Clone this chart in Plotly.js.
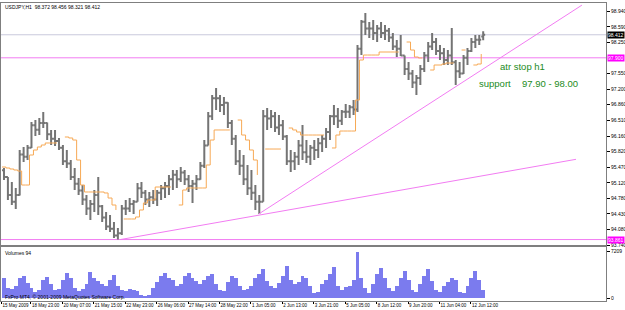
<!DOCTYPE html>
<html><head><meta charset="utf-8">
<script src="https://cdn.plot.ly/plotly-3.0.1.min.js"></script>
<style>html,body{margin:0;padding:0;background:#fff;}#chart{width:625px;height:310px;}</style>
</head><body><div id="chart"></div>
<script>
// ---- data (4-hour buckets of the H1 series, bar index on x) ----
const symbolTitle = "USDJPY,H1  98.372 98.456 98.321 98.412";
const barsPerBucket = 4;
const priceOpen = [
95.40,95.25,94.85,94.70,94.85,95.75,95.70,95.90,96.40,96.30,
96.45,96.45,96.20,96.10,96.05,95.90,95.60,95.55,95.25,95.10,
94.95,94.75,94.55,94.65,94.85,94.60,94.35,94.15,94.10,93.95,
94.00,94.55,94.55,94.65,94.70,95.00,94.90,94.75,94.80,94.75,
94.90,95.00,95.05,95.20,95.30,95.20,95.35,95.20,95.05,95.10,
95.20,95.50,95.95,96.60,97.00,97.00,96.85,96.90,96.45,96.10,
95.60,95.50,95.20,95.00,94.90,94.70,94.70,96.60,96.55,96.60,
96.35,96.40,96.15,95.60,95.60,95.70,95.95,95.80,95.70,95.90,
95.85,96.00,96.10,96.25,96.60,96.60,96.50,96.70,96.70,96.80,
96.75,98.10,98.70,98.55,98.55,98.45,98.55,98.45,98.50,98.35,
98.15,98.10,97.95,97.65,97.55,97.35,97.45,97.65,97.95,98.15,
98.25,98.05,98.00,97.85,97.95,97.80,97.60,97.55,97.90,98.05,
98.25,98.30,98.372];
const priceHigh = [
95.451,95.25,95.140,95.007,95.851,95.918,95.962,96.473,96.518,96.562,
96.696,96.46,96.296,96.296,96.118,95.962,95.851,95.629,95.451,95.229,
95.073,94.851,94.740,94.962,95.251,94.629,94.473,94.407,94.251,94.118,
94.629,94.740,94.784,94.740,95.118,95.140,94.962,94.918,94.962,94.962,
95.073,95.140,95.296,95.407,95.407,95.473,95.407,95.296,95.184,95.296,
95.584,96.073,96.696,97.073,97.229,97.073,97.029,96.91,96.518,96.184,
95.851,95.740,95.518,95.407,95.073,94.851,96.740,96.784,96.740,96.696,
96.629,96.518,96.184,95.851,95.807,96.073,96.407,96.073,95.962,96.073,
96.118,96.184,96.340,96.629,96.851,96.784,96.740,96.873,96.851,96.962,
98.184,98.740,98.896,98.696,98.740,98.629,98.696,98.629,98.562,98.451,
98.296,98.407,97.95,97.807,97.629,97.518,97.740,98.029,98.251,98.451,
98.340,98.184,98.118,98.073,98.562,97.851,97.807,97.962,98.118,98.340,
98.407,98.407,98.49];
const priceLow = [
95.184,94.740,94.629,94.540,94.84,95.584,95.629,95.896,96.162,96.184,
96.340,96.073,95.962,95.940,95.851,95.518,95.451,95.184,94.962,94.851,
94.629,94.407,94.296,94.473,94.407,94.251,94.073,94.029,93.896,93.861,
93.962,94.407,94.473,94.429,94.70,94.784,94.629,94.584,94.651,94.607,
94.740,94.784,94.851,94.962,95.007,95.140,95.073,94.918,94.673,94.962,
95.19,95.451,95.95,96.518,96.740,96.696,96.629,96.340,95.962,95.518,
95.296,95.073,94.851,94.740,94.518,94.429,94.70,96.296,96.340,96.251,
96.184,96.073,95.518,95.362,95.407,95.518,95.629,95.562,95.518,95.629,
95.673,95.807,95.896,96.073,96.407,96.340,96.407,96.562,96.562,96.629,
96.696,97.962,98.407,98.340,98.296,98.251,98.340,98.296,98.251,98.073,
97.918,97.94,97.518,97.407,97.229,97.073,97.296,97.584,97.807,98.073,
97.962,97.851,97.740,97.740,97.740,97.296,97.451,97.54,97.740,98.029,
98.118,98.184,98.29];
const priceClose = [
95.25,94.85,94.70,94.85,95.75,95.70,95.90,96.40,96.30,96.45,
96.45,96.20,96.10,96.05,95.90,95.60,95.55,95.25,95.10,94.95,
94.75,94.55,94.65,94.85,94.60,94.35,94.15,94.10,93.95,94.00,
94.55,94.55,94.65,94.70,95.00,94.90,94.75,94.80,94.75,94.90,
95.00,95.05,95.20,95.30,95.20,95.35,95.20,95.05,95.10,95.20,
95.50,95.95,96.60,97.00,97.00,96.85,96.90,96.45,96.10,95.60,
95.50,95.20,95.00,94.90,94.70,94.70,96.60,96.55,96.60,96.35,
96.40,96.15,95.60,95.60,95.70,95.95,95.80,95.70,95.90,95.85,
96.00,96.10,96.25,96.60,96.60,96.50,96.70,96.70,96.80,96.75,
98.10,98.70,98.55,98.55,98.45,98.55,98.45,98.50,98.35,98.15,
98.10,97.95,97.65,97.55,97.35,97.45,97.65,97.95,98.15,98.25,
98.05,98.00,97.85,97.95,97.80,97.60,97.55,97.90,98.05,98.25,
98.30,98.30,98.412];
const atrStop = [
95.473,95.451,95.429,95.407,95.384,95.073,95.073,95.740,95.851,95.918,
95.962,96.007,96.007,96.007,96.007,null,96.140,96.118,96.073,95.629,
95.073,94.918,94.918,94.918,94.918,94.918,94.896,94.784,94.629,94.518,
null,94.318,94.318,94.318,94.362,94.518,94.673,94.740,94.740,95.029,
95.029,95.029,95.029,95.029,null,94.629,94.962,95.007,95.007,95.007,
95.007,95.007,95.518,96.073,96.296,96.296,96.296,96.296,96.296,null,
96.518,96.184,96.073,95.851,95.629,95.296,null,95.873,95.873,95.873,
95.873,95.873,null,96.340,96.296,96.251,96.184,96.184,96.184,96.184,
96.184,96.184,96.184,null,95.896,96.184,96.273,96.273,96.273,96.273,
96.962,97.851,97.962,97.962,97.962,97.962,98.029,98.029,98.029,98.029,
98.029,98.029,null,98.251,98.073,97.918,97.896,97.896,null,97.629,
97.740,97.740,97.762,97.784,97.784,97.784,null,98.073,98.073,null,
97.740,97.762,97.984];
const volumes = [
3100,1550,1400,1860,3100,3400,2300,1550,930,1240,
2800,3250,2170,1240,1400,2800,3900,3100,1550,1085,
1400,2170,4030,3100,2635,2170,1860,2800,3565,1860,
1240,1085,1400,1240,1085,465,310,465,1550,2480,
3400,3875,3100,2790,1860,2170,3400,3875,3100,2635,
2170,2790,3400,3720,2170,1240,1085,2480,3400,3100,
1860,1240,1400,1860,3100,3720,4500,2635,1860,1550,
2325,3400,4960,2790,2170,2480,3400,3100,1860,775,
930,2170,2790,3720,4800,1860,1240,1700,1860,2790,
7209,3100,1550,775,2170,3720,4650,3100,1550,1085,
1860,3100,4185,2790,1240,930,2170,3400,4500,2635,
1240,930,1860,2480,3100,2790,930,775,1860,3100,
4185,2790,1240];
const timeTickBars = [-1,29,61,93,125,157,189,221,253,285,317,349,381,413,445,477];
const timeTickLabels = ["15 May 2009","18 May 23:00","20 May 07:00","21 May 15:00","22 May 23:00",
  "26 May 06:00","27 May 14:00","28 May 22:00","1 Jun 05:00","2 Jun 13:00","3 Jun 21:00",
  "5 Jun 05:00","8 Jun 12:00","9 Jun 20:00","11 Jun 04:00","12 Jun 12:00"];
const priceTicks = [98.94,98.59,98.25,97.55,97.20,96.86,96.51,96.16,95.82,95.47,95.12,94.78,94.43,94.08,93.74];
const volumeTicks = [0,7209];
const lastVolume = 94;
const trendSteepBars = [261,590];
const trendSteepPrices = [94.43,99.07];
const trendShallowBars = [120,584];
const trendShallowPrices = [93.861,95.644];
const levelPrices = [98.412,97.90,93.861];   // bid line, support line, low line
const noteAtr = "atr stop h1";
const noteSupport = "support";
const noteRange = "97.90 - 98.00";
const noteBar = [505, 483, 527];
const notePrice = [97.70, 97.34, 97.34];

// ---- build ----
const bucketX = priceHigh.map((_, i) => i * barsPerBucket + barsPerBucket / 2 - 0.5);
const atrX = atrStop.map((_, i) => i * barsPerBucket - 0.5);
const GRAY = '#747474', MAG = '#f27cf2', ORANGE = '#f7a955', GREEN = '#228b22';
const xRange = [-1.53, 614.56];

const traces = [
  {type:'ohlc', x:bucketX, open:priceOpen, high:priceHigh, low:priceLow, close:priceClose,
   xaxis:'x', yaxis:'y', tickwidth:0.5,
   increasing:{line:{color:GRAY, width:2}}, decreasing:{line:{color:GRAY, width:2}}, hoverinfo:'skip'},
  {type:'scatter', mode:'lines', x:atrX, y:atrStop, line:{color:ORANGE, width:1, shape:'hv'},
   connectgaps:false, xaxis:'x', yaxis:'y', hoverinfo:'skip'},
  {type:'scatter', mode:'lines', x:trendSteepBars, y:trendSteepPrices, line:{color:MAG, width:1},
   xaxis:'x', yaxis:'y', hoverinfo:'skip'},
  {type:'scatter', mode:'lines', x:trendShallowBars, y:trendShallowPrices, line:{color:MAG, width:1},
   xaxis:'x', yaxis:'y', hoverinfo:'skip'},
  {type:'bar', x:bucketX, y:volumes, width:barsPerBucket, marker:{color:'#7b7bee', line:{width:0}},
   xaxis:'x2', yaxis:'y2', hoverinfo:'skip'}
];

const levelColors = ['#c9c9dc', MAG, MAG];
const shapes = levelPrices.map((p, i) => ({type:'line', xref:'paper', x0:0, x1:1, yref:'y', y0:p, y1:p,
  line:{color:levelColors[i], width:1}, layer:'below'}));

const small = {family:'Liberation Sans, Arial, sans-serif', size:5, color:'#000'};
const tiny = {family:'Liberation Sans, Arial, sans-serif', size:4.5, color:'#000'};
const noteFont = {family:'Liberation Sans, Arial, sans-serif', size:9.5, color:GREEN};
const boxStyles = [{bg:'#000000', fg:'#ffffff'}, {bg:'#ff00ff', fg:'#ffffff'}, {bg:'#ff00ff', fg:'#ffffff'}];
const annotations = [
  {xref:'paper', yref:'paper', x:0.003, y:0.9866, xanchor:'left', yanchor:'middle', showarrow:false, text:symbolTitle, font:small},
  {xref:'paper', yref:'paper', x:0.003, y:0.161, xanchor:'left', yanchor:'middle', showarrow:false, text:'Volumes ' + lastVolume, font:small},
  {xref:'paper', yref:'paper', x:0.003, y:0.012, xanchor:'left', yanchor:'middle', showarrow:false,
   text:'FxPro MT4, © 2001-2009 MetaQuotes Software Corp.', font:small},
  {xref:'x', yref:'y', x:noteBar[0], y:notePrice[0], xanchor:'left', yanchor:'middle', showarrow:false, text:noteAtr, font:noteFont},
  {xref:'x', yref:'y', x:noteBar[1], y:notePrice[1], xanchor:'left', yanchor:'middle', showarrow:false, text:noteSupport, font:noteFont},
  {xref:'x', yref:'y', x:noteBar[2], y:notePrice[2], xanchor:'left', yanchor:'middle', showarrow:false, text:noteRange, font:noteFont}
].concat(levelPrices.map((p, i) => ({xref:'paper', yref:'y', x:1, y:p, xanchor:'left', yanchor:'middle', xshift:1,
   showarrow:false, text:p.toFixed(3), bgcolor:boxStyles[i].bg, borderpad:0,
   font:{family:'Liberation Sans, Arial, sans-serif', size:5, color:boxStyles[i].fg}})));

const axisLine = {showline:true, mirror:true, linecolor:'#7f7f7f', linewidth:1, showgrid:false, zeroline:false};
const layout = {
  width:625, height:310,
  margin:{l:1, r:19, t:3, b:9, pad:0},
  paper_bgcolor:'#ffffff', plot_bgcolor:'#ffffff',
  showlegend:false, shapes:shapes, annotations:annotations,
  font:small,
  xaxis:Object.assign({domain:[0,1], range:xRange, anchor:'y', showticklabels:false, ticks:'',
    rangeslider:{visible:false}}, axisLine),
  yaxis:Object.assign({domain:[0.18792,1], range:[93.74, 99.118], side:'right', anchor:'x',
    tickvals:priceTicks, ticktext:priceTicks.map(v => v.toFixed(3)), ticks:'outside', ticklen:3,
    tickcolor:'#000', tickfont:small}, axisLine),
  xaxis2:Object.assign({domain:[0,1], range:xRange, anchor:'y2', tickvals:timeTickBars, ticktext:timeTickLabels,
    ticks:'outside', ticklen:2, tickcolor:'#000', tickangle:0, ticklabelposition:'outside right',
    tickfont:tiny}, axisLine),
  yaxis2:Object.assign({domain:[0,0.18121], range:[-418, 7936], side:'right', anchor:'x2',
    tickvals:volumeTicks, ticktext:volumeTicks.map(String), ticks:'outside', ticklen:3, tickcolor:'#000',
    tickfont:small}, axisLine),
  bargap:0
};
Plotly.newPlot('chart', traces, layout, {staticPlot:true, displayModeBar:false});
</script>
</body></html>
